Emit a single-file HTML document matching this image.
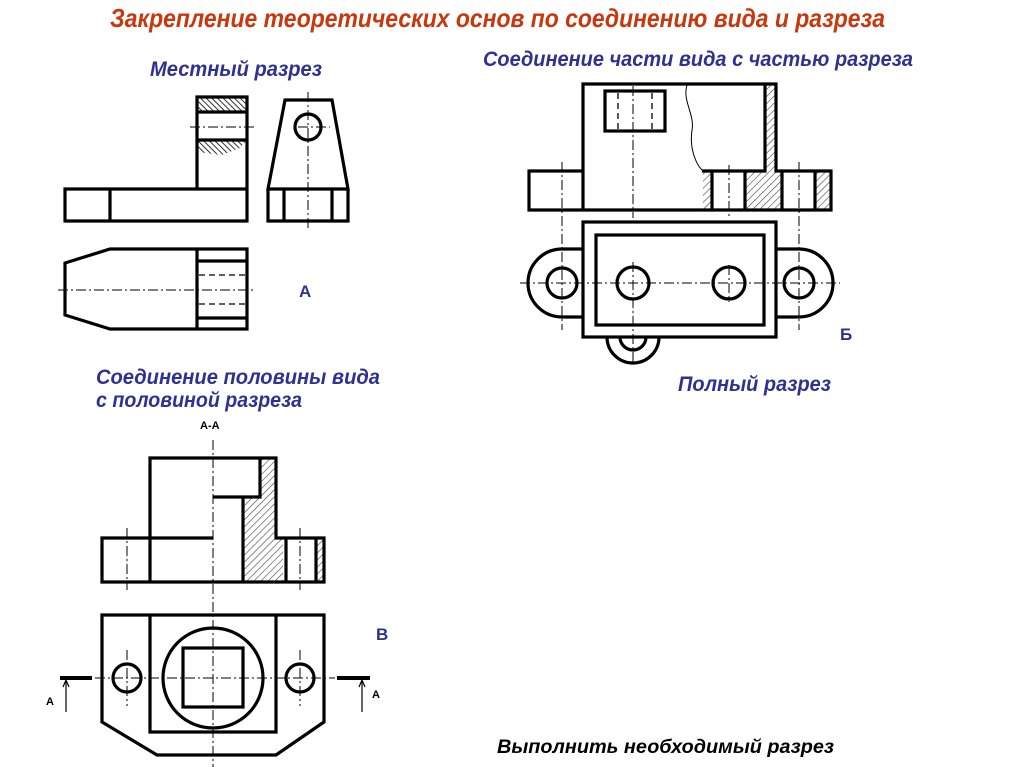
<!DOCTYPE html>
<html><head><meta charset="utf-8"><style>
html,body{margin:0;padding:0;background:#fff}
svg{display:block}
.t{font-family:"Liberation Sans",sans-serif;font-style:italic;font-weight:bold}
.b{fill:#2e3192}
.k{fill:none;stroke:#000;stroke-width:3.2}
.c{fill:none;stroke:#000;stroke-width:1;stroke-dasharray:10,3,2,3}
.d{fill:none;stroke:#000;stroke-width:1.3;stroke-dasharray:6,4}
</style></head><body>
<svg width="1024" height="767" viewBox="0 0 1024 767" xmlns="http://www.w3.org/2000/svg">
<defs>
<pattern id="h" width="5" height="5" patternUnits="userSpaceOnUse" patternTransform="rotate(45)">
<rect width="5" height="5" fill="#fff"/><line x1="0" y1="0" x2="0" y2="5" stroke="#444" stroke-width="1.2"/>
</pattern>
<pattern id="h2" width="4" height="4" patternUnits="userSpaceOnUse" patternTransform="rotate(-45)">
<rect width="4" height="4" fill="#fff"/><line x1="0" y1="0" x2="0" y2="4" stroke="#000" stroke-width="1.6"/>
</pattern>
</defs>
<text class="t" x="110" y="27" font-size="26" fill="#c8380e" textLength="775" lengthAdjust="spacingAndGlyphs">Закрепление теоретических основ по соединению вида и разреза</text>
<text class="t b" x="150" y="76" font-size="21" textLength="172" lengthAdjust="spacingAndGlyphs">Местный разрез</text>
<text class="t b" x="483" y="66" font-size="21" textLength="430" lengthAdjust="spacingAndGlyphs">Соединение части вида с частью разреза</text>
<text class="t b" x="96" y="384" font-size="21" textLength="284" lengthAdjust="spacingAndGlyphs">Соединение половины вида</text>
<text class="t b" x="96" y="407" font-size="21" textLength="206" lengthAdjust="spacingAndGlyphs">с половиной разреза</text>
<text class="t b" x="678" y="391" font-size="21" textLength="153" lengthAdjust="spacingAndGlyphs">Полный разрез</text>
<text x="497" y="753" font-size="19" font-family="Liberation Sans,sans-serif" font-style="italic" font-weight="bold" textLength="337" lengthAdjust="spacingAndGlyphs">Выполнить необходимый разрез</text>
<text x="299" y="297" font-size="17" font-family="Liberation Sans,sans-serif" font-weight="bold" fill="#2e3192">А</text>
<text x="840" y="340" font-size="17" font-family="Liberation Sans,sans-serif" font-weight="bold" fill="#2e3192">Б</text>
<text x="376" y="640" font-size="17" font-family="Liberation Sans,sans-serif" font-weight="bold" fill="#2e3192">В</text>
<text x="200" y="429" font-size="11" font-family="Liberation Sans,sans-serif" font-weight="bold">А-А</text>
<text x="46" y="705" font-size="11" font-family="Liberation Sans,sans-serif" font-weight="bold">А</text>
<text x="372" y="698" font-size="11" font-family="Liberation Sans,sans-serif" font-weight="bold">А</text>

<!-- Drawing A -->
<rect x="197" y="97" width="50" height="15" fill="url(#h2)"/>
<path d="M197,140 H247 L240,148 L222,155 L197,152 Z" fill="url(#h2)"/>
<path class="k" d="M65,189 H247 V221 H65 Z M110,189 V221 M197,189 V97 H247 V189 M197,112 H247 M197,140 H247"/>
<line class="c" x1="190" y1="127" x2="257" y2="127"/>
<path class="k" d="M285,100 H332 L348,189 H268 Z M268,189 V221 H348 V189 M284,189 V221 M332,189 V221"/>
<circle class="k" cx="308" cy="127" r="13"/>
<line class="c" x1="308" y1="92" x2="308" y2="228"/>
<line class="c" x1="298" y1="127" x2="330" y2="127"/>
<path class="k" d="M65,263 L110,249 H247 V329 H110 L65,315 Z M197,249 V329 M197,261 H247 M197,318 H247"/>
<line class="d" x1="199" y1="275" x2="247" y2="275"/>
<line class="d" x1="199" y1="304" x2="247" y2="304"/>
<line class="c" x1="58" y1="290" x2="256" y2="290"/>

<!-- Drawing Б -->
<rect x="703" y="171" width="9" height="39" fill="url(#h)"/>
<rect x="745" y="171" width="37" height="39" fill="url(#h)"/>
<rect x="765" y="84" width="11" height="87" fill="url(#h)"/>
<rect x="815" y="171" width="16" height="39" fill="url(#h)"/>
<path class="k" d="M583,84 H776 V171 H831 V210 H529 V171 H583 Z M583,84 V210 M702,171 H765 V84 M712,171 V210 M745,171 V210 M782,171 V210 M815,171 V210"/>
<path d="M687,85 C682,100 695,115 692,130 C689,150 697,165 702,170" fill="none" stroke="#000" stroke-width="1"/>
<rect class="k" x="605" y="91" width="60" height="40"/>
<line class="d" x1="618" y1="93" x2="618" y2="130"/>
<line class="d" x1="652" y1="93" x2="652" y2="130"/>
<line class="c" x1="633" y1="86" x2="633" y2="218"/>
<line class="c" x1="562" y1="162" x2="562" y2="330"/>
<line class="c" x1="729" y1="165" x2="729" y2="218"/>
<line class="c" x1="799" y1="162" x2="799" y2="330"/>
<rect class="k" x="583" y="222" width="193" height="115"/>
<rect class="k" x="596" y="235" width="168" height="90"/>
<path class="k" d="M583,249 H562 A34,34 0 0 0 562,317 H583 M776,249 H799 A34,34 0 0 1 799,317 H776"/>
<circle class="k" cx="562" cy="283" r="15"/><circle class="k" cx="633" cy="283" r="16"/>
<circle class="k" cx="729" cy="283" r="16"/><circle class="k" cx="799" cy="283" r="15"/>
<path class="k" d="M607,337 A26,26 0 0 0 659,337 M620,337 A13,13 0 0 0 646,337"/>
<line class="c" x1="520" y1="283" x2="840" y2="283"/>
<line class="c" x1="729" y1="265" x2="729" y2="302"/>
<line class="c" x1="633" y1="262" x2="633" y2="365"/>

<!-- Drawing В -->
<rect x="260" y="458" width="16" height="39" fill="url(#h)"/>
<rect x="243" y="497" width="33" height="41" fill="url(#h)"/>
<rect x="243" y="538" width="40" height="44" fill="url(#h)"/>
<rect x="316" y="538" width="8" height="44" fill="url(#h)"/>
<path class="k" d="M150,458 H276 V538 H324 V582 H102 V538 H150 Z M150,458 V582 M102,538 H213 M213,497 H260 V458 M243,497 V582 M286,538 V582 M316,538 V582"/>
<line class="c" x1="213" y1="440" x2="213" y2="767"/>
<line class="c" x1="127" y1="528" x2="127" y2="590"/>
<line class="c" x1="300" y1="528" x2="300" y2="590"/>
<path class="k" d="M102,615 H324 V722 L276,755 H157 L102,722 Z M150,615 V732 H276 V615"/>
<circle class="k" cx="213" cy="678" r="50"/>
<rect class="k" x="183" y="648" width="60" height="59"/>
<circle class="k" cx="127" cy="678" r="14"/><circle class="k" cx="300" cy="678" r="14"/>
<line class="c" x1="95" y1="678" x2="335" y2="678"/>
<line class="c" x1="127" y1="650" x2="127" y2="706"/>
<line class="c" x1="300" y1="650" x2="300" y2="706"/>
<path d="M60,678 H92 M337,678 H370" stroke="#000" stroke-width="4"/>
<path d="M66,712 V681 M362,712 V681" stroke="#000" stroke-width="1.2"/>
<path d="M63,687 L66,680 L69,687 M359,687 L362,680 L365,687" fill="none" stroke="#000" stroke-width="1.2"/>
</svg>
</body></html>
